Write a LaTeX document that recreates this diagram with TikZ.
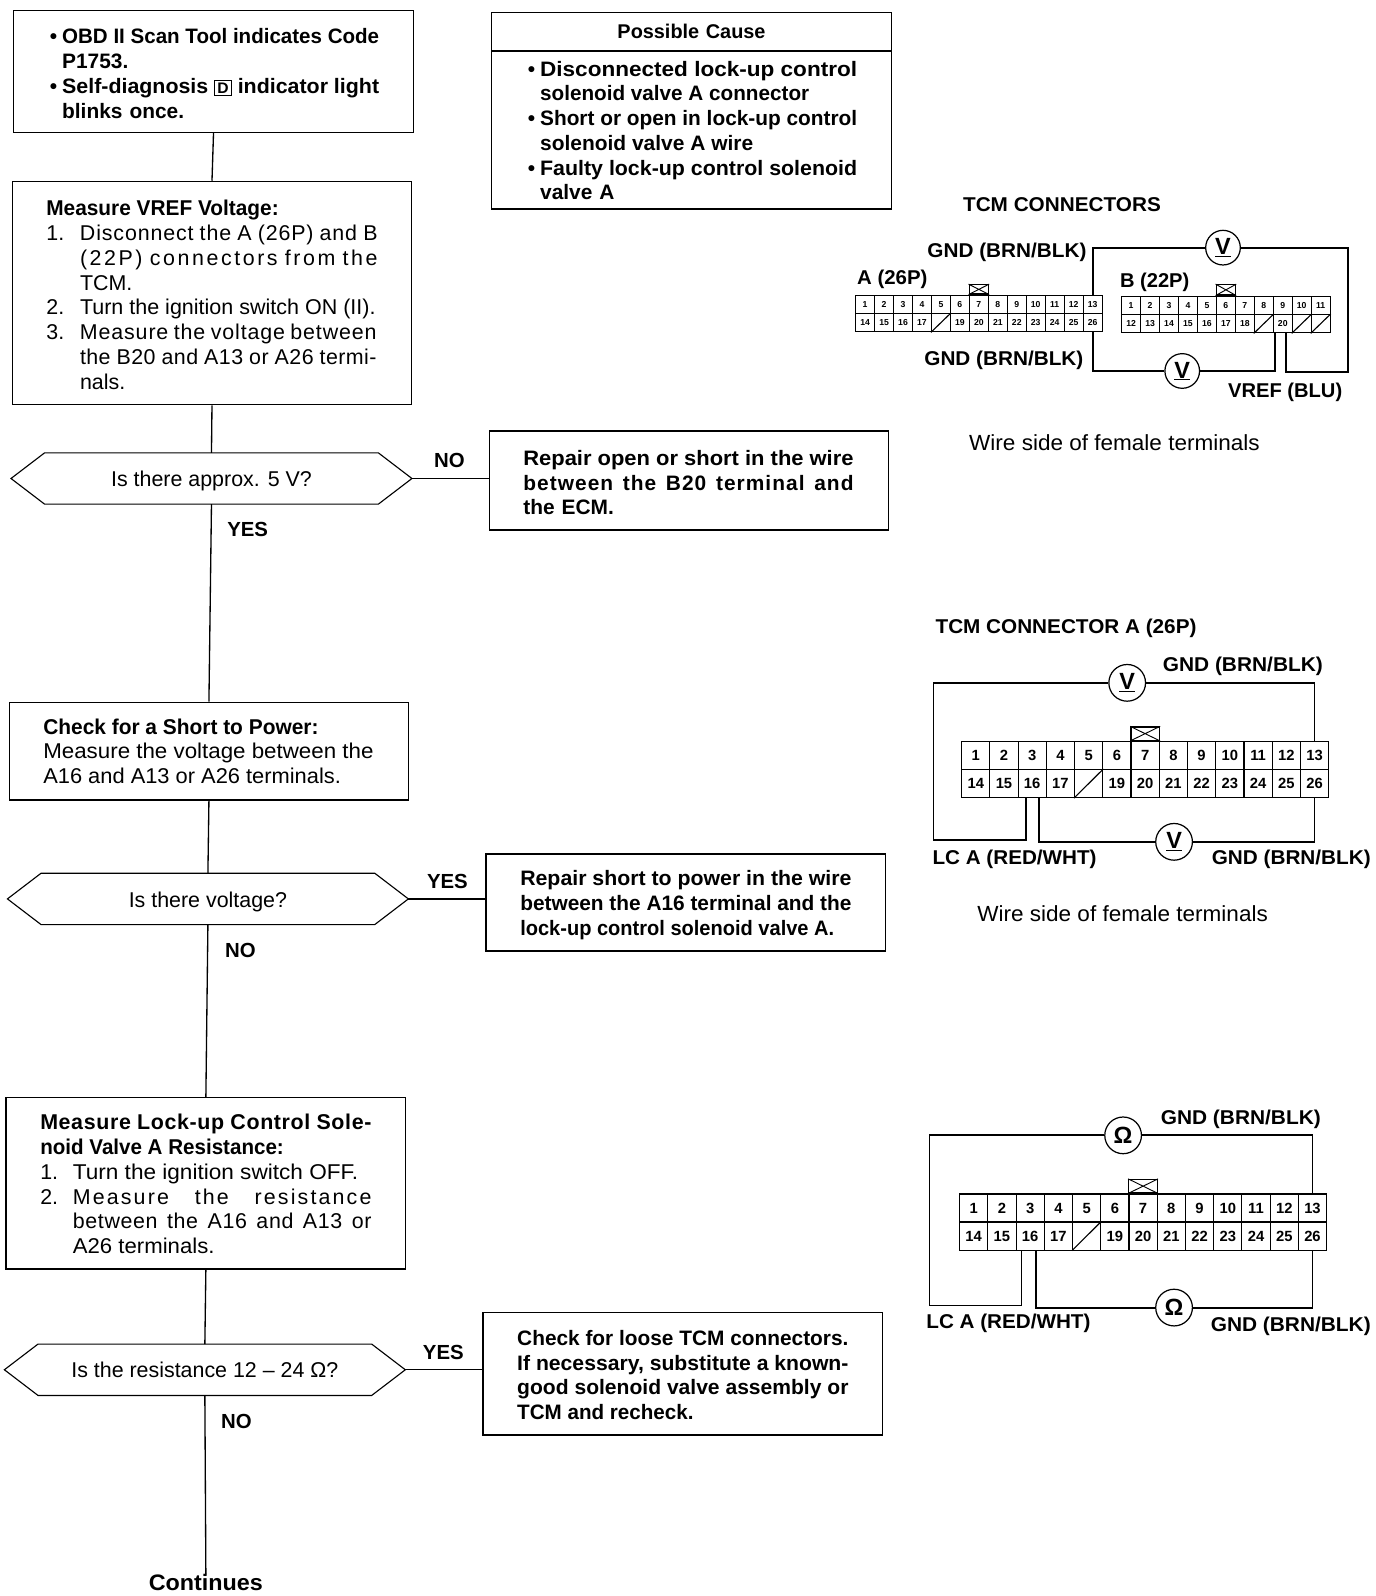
\documentclass[tikz,border=0pt]{standalone}
\usepackage{fontspec}
\usepackage{graphicx}
\setmainfont{Liberation Sans}
\newcommand\rgbody{\fontsize{21}{24.3}\selectfont}
\newcommand\bdbody{\fontsize{20.5}{24.3}\selectfont\bfseries}
\newcommand\fw[2]{\resizebox{#1pt}{\height}{\spaceskip=0pt #2}}
\newcommand\js[3]{\makebox[#1pt][s]{\spaceskip=0pt \addfontfeature{LetterSpace=#2}#3}}
\newcommand\ind[1]{\hspace*{#1pt}}
\newcommand\nmb[2]{\makebox[#2pt][l]{#1}}
\newcommand\bul{\makebox[14pt][l]{\hspace{2pt}•}}
\newcommand\tcmconn[8]{%
  \foreach \n [count=\i] in {#7} {
    \node[cell,font=#6,minimum width=#4pt,minimum height=#5pt] (#1t\i) at ({#2+(\i-1)*#4},#3) {\n};
  }
  \foreach \n [count=\i] in {#8} {
    \node[cell,font=#6,minimum width=#4pt,minimum height=#5pt] (#1b\i) at ({#2+(\i-1)*#4},{#3+#5}) {\n};
  }
}
\newcommand\hexnode[3]{%
  \node[hexa] (#1) at (#2) {\raisebox{-8pt}[10pt][10pt]{#3}};
  \draw[line width=1.1pt] (#1.west) -- ([xshift=33pt]#1.north west) -- ([xshift=-33pt]#1.north east) -- (#1.east) -- ([xshift=-33pt]#1.south east) -- ([xshift=33pt]#1.south west) -- cycle;
}
\tikzset{
  flowbox/.style={draw,line width=1.3pt,rectangle,text width=325pt,inner xsep=33.5pt,inner ysep=0pt,align=left},
  rgbox/.style={flowbox,font=\rgbody},
  bdbox/.style={flowbox,font=\bdbody},
  txtdown/.style={execute at begin node={\rule{0pt}{#1pt}}},
  hexa/.style={rectangle,minimum width=393pt,minimum height=50pt,inner sep=0pt,font=\rgbody},
  link/.style={line width=1.3pt},
  wire/.style={line width=1.8pt},
  cell/.style={draw,line width=1.1pt,rectangle,inner sep=0pt,anchor=north west},
  flag/.style={font=\fontsize{20}{24}\selectfont\bfseries,inner sep=0pt},
  lbl/.style={font=\fontsize{19.6}{24}\selectfont\bfseries,inner sep=0pt},
  rlbl/.style={font=\fontsize{21.5}{24}\selectfont,inner sep=0pt},
  meter/.style={draw,line width=1.2pt,circle,inner sep=0pt,minimum size=36pt,font=\fontsize{23}{24}\selectfont\bfseries},
}
\begin{document}
\begin{tikzpicture}[x=1pt,y=-1pt]
\useasboundingbox (1,0) rectangle (1351,1566);
\begin{scope}[xshift=1pt]
% flowchart boxes
\node[bdbox,txtdown=19,minimum height=120pt] (box1) at (209.5,70) {%
\bul\fw{311}{OBD II Scan Tool indicates Code}\\
\ind{14}P1753.\\
\bul\fw{311}{Self-diagnosis {\fontsize{15}{15}\selectfont\setlength{\fboxsep}{2pt}\setlength{\fboxrule}{1pt}\fbox{D}} indicator light}\\
\ind{14}blinks once.};
\node[bdbox,txtdown=16,minimum height=155pt] (pcb) at (678.5,127.5) {%
\bul\fw{311}{Disconnected lock-up control}\\
\ind{14}\fw{264}{solenoid valve A connector}\\
\bul\fw{311}{Short or open in lock-up control}\\
\ind{14}\fw{209}{solenoid valve A wire}\\
\bul\fw{311}{Faulty lock-up control solenoid}\\
\ind{14}valve A};
\node[flowbox,font=\fontsize{19.5}{24}\selectfont\bfseries,align=center,minimum height=38pt] (pch) at (678.5,31) {Possible Cause};
\node[rgbox,txtdown=19,minimum height=219pt] (box3) at (208,287.5) {%
\textbf{\fw{228}{Measure VREF Voltage:}}\\
\nmb{1.}{33}\js{292}{4}{Disconnect the A (26P) and B}\\
\ind{33}\js{292}{12}{(22P) connectors from the}\\
\ind{33}TCM.\\
\nmb{2.}{33}\fw{290}{Turn the ignition switch ON (II).}\\
\nmb{3.}{33}\js{291}{4}{Measure the voltage between}\\
\ind{33}\js{291}{2}{the B20 and A13 or A26 termi-}\\
\ind{33}nals.};
\hexnode{d1}{207.5,469.5}{Is there approx. 5 V?}
\node[bdbox,txtdown=19,minimum height=97pt] (no1) at (676,471.5) {%
\fw{324}{Repair open or short in the wire}\\
\js{324}{5}{between the B20 terminal and}\\
the ECM.};
\node[rgbox,minimum height=96pt] (chk) at (205,737) {%
\textbf{\fw{270}{Check for a Short to Power:}}\\
\fw{324}{Measure the voltage between the}\\
\fw{292}{A16 and A13 or A26 terminals.}};
\hexnode{d2}{204,882}{Is there voltage?}
\node[bdbox,txtdown=20,minimum height=95pt] (rep) at (673,885.5) {%
\fw{325}{Repair short to power in the wire}\\
\fw{325}{between the A16 terminal and the}\\
\fw{308}{lock-up control solenoid valve A.}};
\node[rgbox,txtdown=17,minimum height=168pt] (lck) at (202,1161) {%
\textbf{\js{325}{3}{Measure Lock-up Control Sole-}}\\
\textbf{\fw{239}{noid Valve A Resistance:}}\\
\nmb{1.}{32}\fw{280}{Turn the ignition switch OFF.}\\
\nmb{2.}{32}\js{293}{10}{Measure the resistance}\\
\ind{32}\js{293}{3}{between the A16 and A13 or}\\
\ind{32}\fw{139}{A26 terminals.}};
\hexnode{d3}{201,1344}{Is the resistance 12 -- 24 Ω?}
\node[bdbox,txtdown=17,minimum height=120pt] (chkb) at (670,1348) {%
\fw{325}{Check for loose TCM connectors.}\\
\fw{325}{If necessary, substitute a known-}\\
\fw{325}{good solenoid valve assembly or}\\
\fw{173}{TCM and recheck.}};
\node[flag,font=\fontsize{22}{24}\selectfont\bfseries] (cont) at (202,1553) {\fw{112}{Continues}};
% flowchart links
\draw[link] (box1.south) -- (box3.north);
\draw[link] (box3.south) -- (d1.north);
\draw[link] (d1.south) -- (chk.north);
\draw[link] (chk.south) -- (d2.north);
\draw[link] (d2.south) -- (lck.north);
\draw[link] (lck.south) -- (d3.north);
\draw[link] (d3.south) -- (cont.north);
\draw[link] (d1.east) -- (d1.east -| no1.west);
\draw[link] (d2.east) -- (d2.east -| rep.west);
\draw[link] (d3.east) -- (d3.east -| chkb.west);
% branch labels
\node[flag] (f1) at (441,452) {NO};
\node[flag] (f2) at (243,520) {YES};
\node[flag] (f3) at (439,865) {YES};
\node[flag] (f4) at (236,933) {NO};
\node[flag] (f5) at (435,1327) {YES};
\node[flag] (f6) at (232,1395) {NO};
\end{scope}
% diagram 1
\node[lbl] (t1) at (1043,201) {\fw{194}{TCM CONNECTORS}};
\node[lbl] (g1) at (989,248) {\fw{156}{GND (BRN/BLK)}};
\node[lbl] (ca) at (876.5,274) {\fw{69}{A (26P)}};
\node[lbl] (cb) at (1134,277) {\fw{68}{B (22P)}};
\node[lbl] (g2) at (986,354) {\fw{156}{GND (BRN/BLK)}};
\node[lbl] (vr) at (1262,385) {\fw{112}{VREF (BLU)}};
\node[rlbl] (ws1) at (1094.5,434) {\fw{285}{Wire side of female terminals}};
\tcmconn{a}{840}{289}{18.6}{18}{\fontsize{8.5}{9}\selectfont\bfseries}{1,2,3,4,5,6,7,8,9,10,11,12,13}{14,15,16,17,{},19,20,21,22,23,24,25,26}
\draw[line width=1.1pt] (ab5.south west) -- (ab5.north east);
\node[draw,line width=1.2pt,rectangle,minimum width=19pt,minimum height=9pt,inner sep=0pt,anchor=south] (atab) at (at7.north) {};
\draw[line width=.9pt] (atab.south west) -- (atab.north east) (atab.north west) -- (atab.south east);
\tcmconn{c}{1101}{290}{18.6}{18}{\fontsize{8.5}{9}\selectfont\bfseries}{1,2,3,4,5,6,7,8,9,10,11}{12,13,14,15,16,17,18,{},20,{},{}}
\draw[line width=1.1pt] (cb8.south west) -- (cb8.north east) (cb10.south west) -- (cb10.north east) (cb11.south west) -- (cb11.north east);
\node[draw,line width=1.2pt,rectangle,minimum width=19pt,minimum height=10pt,inner sep=0pt,anchor=south] (ctab) at (ct6.north) {};
\draw[line width=.9pt] (ctab.south west) -- (ctab.north east) (ctab.north west) -- (ctab.south east);
\node[meter,minimum size=34pt] (m1) at (1201,243) {\underline{V}};
\node[meter,minimum size=34pt] (m2) at (1161,364) {\underline{V}};
\coordinate (w1) at (1324,365);
\coordinate (w2) at ([xshift=3pt]cb9.south);
\coordinate (w3) at ([xshift=-8pt]cb9.south);
\draw[wire] (at13.north) |- (m1.west);
\draw[wire] (m1.east) -| (w1) -| (w2);
\draw[wire] (ab13.south) |- (m2.west);
\draw[wire] (m2.east) -| (w3);
% diagram 2
\node[lbl] (t2) at (1047,617) {\fw{256}{TCM CONNECTOR A (26P)}};
\node[lbl] (g3) at (1220.5,654) {\fw{157}{GND (BRN/BLK)}};
\node[lbl] (lc1) at (996.5,843) {\fw{161}{LC A (RED/WHT)}};
\node[lbl] (g4) at (1268,843) {\fw{156}{GND (BRN/BLK)}};
\node[rlbl] (ws2) at (1102.5,896) {\fw{285}{Wire side of female terminals}};
\tcmconn{e}{944}{727}{27.7}{27.5}{\fontsize{14.5}{15}\selectfont\bfseries}{1,2,3,4,5,6,7,8,9,10,11,12,13}{14,15,16,17,{},19,20,21,22,23,24,25,26}
\draw[line width=1.1pt] (eb5.south west) -- (eb5.north east);
\node[draw,line width=1.3pt,rectangle,minimum width=28pt,minimum height=13pt,inner sep=0pt,anchor=south] (etab) at (et7.north) {};
\draw[line width=.9pt] (etab.south west) -- (etab.north east) (etab.north west) -- (etab.south east);
\node[meter] (m3) at (1107,670) {\underline{V}};
\node[meter] (m4) at (1153,826) {\underline{V}};
\coordinate (w4) at (917,824);
\coordinate (w5) at ([xshift=-6.5pt]eb3.south);
\coordinate (w6) at ([xshift=6.5pt]eb3.south);
\draw[wire] (et13.north) |- (m3.east);
\draw[wire] (m3.west) -| (w4) -| (w5);
\draw[wire] (w6) |- (m4.west);
\draw[wire] (m4.east) -| (eb13.south);
% diagram 3
\node[lbl] (g5) at (1218.5,1098) {\fw{157}{GND (BRN/BLK)}};
\node[lbl] (lc2) at (990.5,1298) {\fw{161}{LC A (RED/WHT)}};
\node[lbl] (g6) at (1267.5,1301) {\fw{157}{GND (BRN/BLK)}};
\tcmconn{g}{942}{1171}{27.7}{27.5}{\fontsize{14.5}{15}\selectfont\bfseries}{1,2,3,4,5,6,7,8,9,10,11,12,13}{14,15,16,17,{},19,20,21,22,23,24,25,26}
\draw[line width=1.1pt] (gb5.south west) -- (gb5.north east);
\node[draw,line width=1.3pt,rectangle,minimum width=28pt,minimum height=13pt,inner sep=0pt,anchor=south] (gtab) at (gt7.north) {};
\draw[line width=.9pt] (gtab.south west) -- (gtab.north east) (gtab.north west) -- (gtab.south east);
\node[meter] (m5) at (1103,1114) {Ω};
\node[meter] (m6) at (1153,1283) {Ω};
\coordinate (w7) at (913,1281);
\coordinate (w8) at ([xshift=-8.5pt]gb3.south);
\coordinate (w9) at ([xshift=5.5pt]gb3.south);
\draw[wire] (gt13.north) |- (m5.east);
\draw[wire] (m5.west) -| (w7) -| (w8);
\draw[wire] (w9) |- (m6.west);
\draw[wire] (m6.east) -| (gb13.south);
\end{tikzpicture}
\end{document}
